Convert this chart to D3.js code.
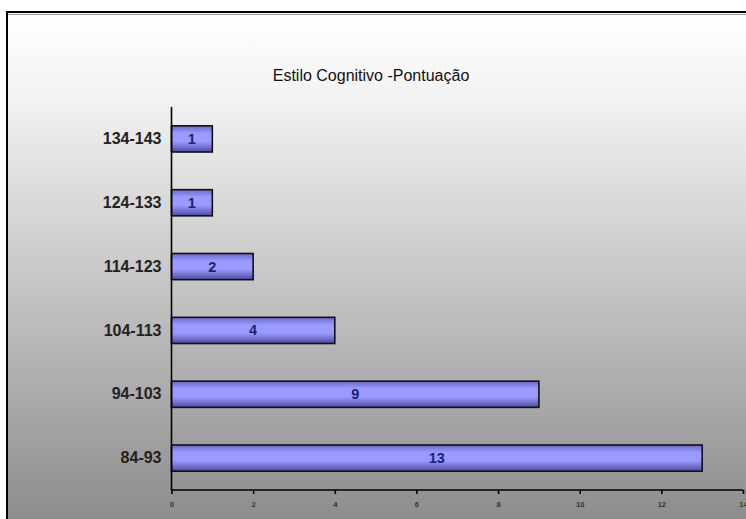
<!DOCTYPE html>
<html><head><meta charset="utf-8">
<script src="https://cdn.jsdelivr.net/npm/d3@7"></script>
<style>html,body{margin:0;padding:0;background:#fff;overflow:hidden}</style>
</head><body>
<script>
const categories = ["134-143","124-133","114-123","104-113","94-103","84-93"];
const values = [1,1,2,4,9,13];
const xTicks = [0,2,4,6,8,10,12,14];
const title = "Estilo Cognitivo -Pontuação";

const W = 746, H = 519;
const svg = d3.select("body").append("svg").attr("width", W).attr("height", H);
const defs = svg.append("defs");
const bg = defs.append("linearGradient").attr("id","bg").attr("x1",0).attr("y1",0).attr("x2",0).attr("y2",1);
bg.append("stop").attr("offset",0).attr("stop-color","#ffffff");
bg.append("stop").attr("offset",0.16).attr("stop-color","#f3f3f3");
bg.append("stop").attr("offset",0.55).attr("stop-color","#c2c2c2");
bg.append("stop").attr("offset",1).attr("stop-color","#8a8a8a");
const bar = defs.append("linearGradient").attr("id","bar").attr("x1",0).attr("y1",0).attr("x2",0).attr("y2",1);
bar.append("stop").attr("offset",0).attr("stop-color","#6a6acc");
bar.append("stop").attr("offset",0.3).attr("stop-color","#9c9cff");
bar.append("stop").attr("offset",0.6).attr("stop-color","#9a9aff");
bar.append("stop").attr("offset",1).attr("stop-color","#4c4ca4");

svg.append("rect").attr("x",7).attr("y",12).attr("width",W).attr("height",H)
  .attr("fill","url(#bg)").attr("stroke","#000").attr("stroke-width",2);
svg.append("line").attr("x1",8).attr("x2",W).attr("y1",14.5).attr("y2",14.5).attr("stroke","#9a9a9a").attr("stroke-width",1);

svg.append("text").attr("x",371).attr("y",81).attr("text-anchor","middle")
  .attr("font-family","Liberation Sans, Arial, sans-serif").attr("font-size",16).attr("fill","#111")
  .text(title);

const x = d3.scaleLinear().domain([0,14]).range([171.5,743]);
const y = d3.scaleBand().domain(categories).range([107,490]).paddingInner(0.59).paddingOuter(0.295);

const g = svg.append("g");
g.selectAll("rect.bar").data(values).join("rect").attr("class","bar")
  .attr("x", x(0)).attr("y",(d,i)=>y(categories[i]))
  .attr("width", d=>x(d)-x(0)).attr("height", y.bandwidth())
  .attr("fill","url(#bar)").attr("stroke","#111").attr("stroke-width",1.6);

g.selectAll("text.val").data(values).join("text").attr("class","val")
  .attr("x", d=>(x(0)+x(d))/2).attr("y",(d,i)=>y(categories[i])+y.bandwidth()/2+5)
  .attr("text-anchor","middle").attr("font-family","Liberation Sans, Arial, sans-serif")
  .attr("font-size",14.5).attr("font-weight","bold").attr("fill","#1e1e78").text(d=>d);

// y axis
const ya = svg.append("g").attr("transform",`translate(${x(0)},0)`)
  .call(d3.axisLeft(y).tickSize(0).tickPadding(10));
ya.select(".domain").attr("stroke","#000").attr("stroke-width",1.6).attr("d","M0,107V490");
ya.selectAll("text").attr("font-family","Liberation Sans, Arial, sans-serif").attr("font-size",16)
  .attr("font-weight","bold").attr("fill","#222");

// x axis
const xa = svg.append("g").attr("transform","translate(0,490)")
  .call(d3.axisBottom(x).tickValues(xTicks).tickSize(4).tickPadding(8));
xa.select(".domain").attr("stroke","#000").attr("stroke-width",1.6).attr("d",`M${x(0)},0H${x(14)}`);
xa.selectAll(".tick line").attr("stroke","#000").attr("stroke-width",1.6);
xa.selectAll("text").attr("font-family","Liberation Sans, Arial, sans-serif").attr("font-size",7.5)
  .attr("font-weight","bold").attr("fill","#333");
</script>
</body></html>
